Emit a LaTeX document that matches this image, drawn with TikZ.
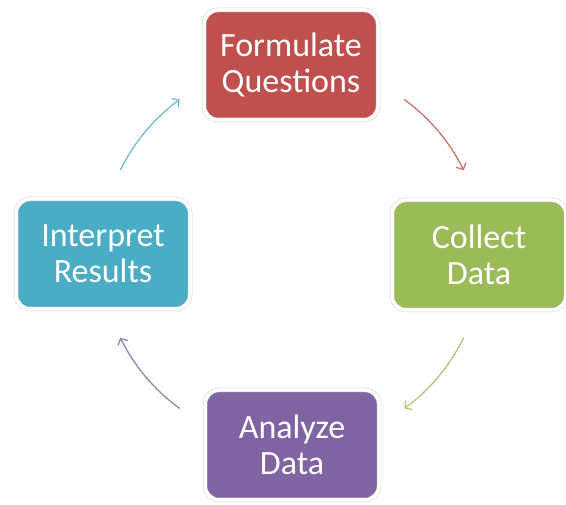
\documentclass[tikz,border=0pt]{standalone}
\usepackage{fontspec}
\setmainfont{Carlito}
\usetikzlibrary{arrows.meta, shadows}

\definecolor{qred}{HTML}{C0504D}
\definecolor{cgreen}{HTML}{9BBB59}
\definecolor{apurple}{HTML}{8064A2}
\definecolor{iteal}{HTML}{4BACC6}

\begin{document}
\begin{tikzpicture}[x=1pt, y=1pt,
  phase/.style={draw=black!18, line width=0.5pt, double=white, double distance=3.5pt,
    rounded corners=14pt, minimum width=174pt, minimum height=110pt, align=center,
    text=white, font=\fontsize{34}{36}\selectfont,
    drop shadow={shadow xshift=1pt, shadow yshift=-1.5pt, opacity=.3}},
  flow/.style={line width=1.3pt, -{Straight Barb[length=5pt, width=11pt]}}]
  \useasboundingbox (0,0) rectangle (566,505);

  \coordinate (c) at (292,251);

  \node[phase, fill=qred] (fq) at (291,440) {Formulate\\Questions};
  \node[phase, fill=cgreen] (cd) at (479,250) {Collect\\Data};
  \node[phase, fill=apurple] (ad) at (292,60) {Analyze\\Data};
  \node[phase, fill=iteal] (ir) at (103,251) {Interpret\\Results};

  % arcs round the cycle
  \foreach \a/\col in {54/qred, -26/cgreen, -126/apurple, 154/iteal}
    \draw[flow, \col!80] (c) ++(\a:191) arc[start angle=\a, end angle=\a-28, radius=191];
\end{tikzpicture}
\end{document}
